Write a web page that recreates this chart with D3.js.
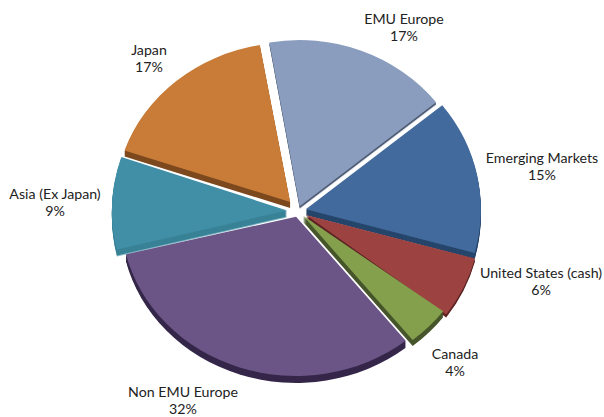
<!DOCTYPE html>
<html>
<head>
<meta charset="utf-8">
<script src="https://cdn.jsdelivr.net/npm/d3@7"></script>
<style>
    html, body { margin: 0; padding: 0; background: #fff; }
    text { font-family: Lato, "Open Sans", sans-serif; font-size: 14.2px; fill: #222; }
</style>
</head>
<body>
<div id="chart-container"></div>
<script>
// read clockwise from the top of the pie
const categories = ['EMU Europe', 'Emerging Markets', 'United States (cash)', 'Canada', 'Non EMU Europe', 'Asia (Ex Japan)', 'Japan'];
const shares = [17, 15, 6, 4, 32, 9, 17];

const faceColors = ['#8a9dbf', '#426a9c', '#9c4341', '#84a04d', '#6b5486', '#408fa6', '#c97c39'];
const wallColors = ['#4d5a70', '#26456b', '#5e2222', '#46552a', '#35284a', '#3a8296', '#7d4a20'];
const rimColors = ['#d5dce8', null, null, null, null, '#86bccb', null];

// layout only
const explode = [5, 8, 9, 7, 6, 11, 12];
const tilts = [0.95, 0.95, 0.95, 0.91, 0.91, 0.95, 0.91];
const wallDepth = [2, 6, 3, 6, 7, 6, 6];
const drawOrder = [5, 6, 0, 1, 2, 3, 4];
const labelX = [404, 542, 541, 455, 183, 55, 149];
const labelY = [24, 163, 278, 359, 397, 199, 55];

const width = 604;
const height = 417;
const cx = 298;
const cy = 211;
const radius = 175;
const startAngle = -10 * Math.PI / 180;

const svg = d3.select('#chart-container')
    .append('svg')
    .attr('width', width)
    .attr('height', height)
    .style('display', 'block');

// the reference is a slightly soft bitmap
svg.append('defs').append('filter')
    .attr('id', 'soft')
    .append('feGaussianBlur')
    .attr('stdDeviation', 0.4);

const pieLayer = svg.append('g').attr('filter', 'url(#soft)');

const pie = d3.pie()
    .sort(null)
    .startAngle(startAngle)
    .endAngle(startAngle + 2 * Math.PI);

const arc = d3.arc().innerRadius(0).outerRadius(radius);
const slices = pie(shares);

drawOrder.forEach((i) => {
    const s = slices[i];
    const mid = (s.startAngle + s.endAngle) / 2;
    const x = cx + explode[i] * Math.sin(mid);
    const y = cy - explode[i] * Math.cos(mid);
    const at = (d) => `translate(${x},${y + d}) scale(1,${tilts[i]})`;

    const g = pieLayer.append('g');

    if (rimColors[i]) {
        g.append('path')
            .attr('fill', rimColors[i])
            .attr('transform', at(wallDepth[i] + 1))
            .attr('d', arc(s));
    }

    // side wall: stacked darker copies
    g.selectAll('path.wall')
        .data(d3.range(wallDepth[i], 0, -1))
        .join('path')
        .attr('class', 'wall')
        .attr('fill', wallColors[i])
        .attr('transform', at)
        .attr('d', arc(s));

    g.append('path')
        .attr('class', 'face')
        .attr('fill', faceColors[i])
        .attr('transform', at(0))
        .attr('d', arc(s));
});

categories.forEach((name, i) => {
    const label = svg.append('text')
        .attr('text-anchor', 'middle')
        .attr('x', labelX[i])
        .attr('y', labelY[i]);
    label.append('tspan').attr('x', labelX[i]).text(name);
    label.append('tspan').attr('x', labelX[i]).attr('dy', 17).text(`${shares[i]}%`);
});
</script>
</body>
</html>
